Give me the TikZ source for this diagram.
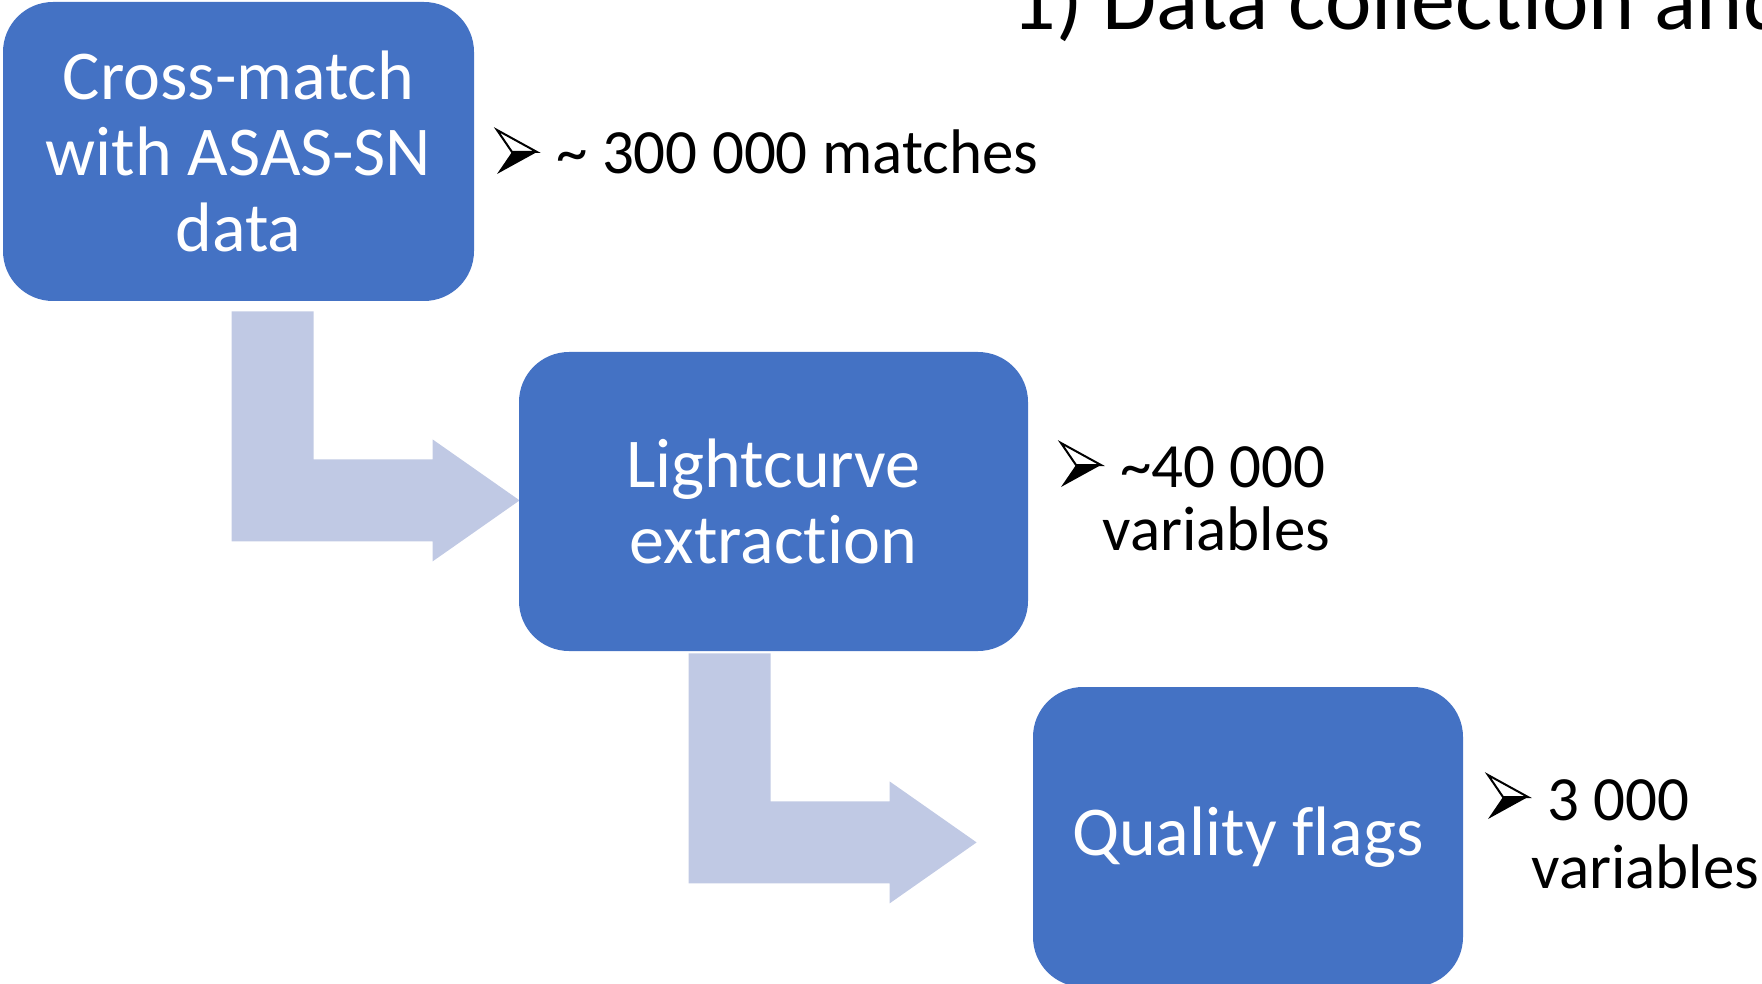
\documentclass[tikz,border=0pt]{standalone}
\usepackage{fontspec}
\setmainfont{Carlito}[Ligatures=NoCommon]
\usetikzlibrary{calc,backgrounds}
\definecolor{boxblue}{RGB}{68,114,196}
\definecolor{arrowblue}{RGB}{192,201,228}
\begin{document}
\begin{tikzpicture}[x=0.5pt,y=-0.5pt,
  stepbox/.style={fill=boxblue, rounded corners=25pt, text=white, align=center,
    inner sep=0pt, font=\fontsize{35}{38}\selectfont},
  note/.style={anchor=base west, inner sep=0pt, font=\fontsize{31.5}{34}\selectfont},
  heading/.style={anchor=base west, inner sep=0pt, font=\fontsize{44}{48}\selectfont},
  bentarrow/.pic={
    \fill[arrowblue] (0,0) -- (82,0) -- (82,148) -- (201,148) -- (201,128)
      -- (288,189) -- (201,250) -- (201,230) -- (0,230) -- cycle;
  },
  bulletmark/.pic={
    \fill[black] (15,22) -- (40,22) -- (0,44) -- cycle;
    \draw[line width=1pt, line join=miter, fill=white] (0,0) -- (40,22) -- (15,22) -- cycle;
  }]
\useasboundingbox (0,0) rectangle (1762,984);
\clip (0,0) rectangle (1762,984);

% process steps
\node[stepbox, minimum width=235.5pt, minimum height=149.5pt] (box1) at (238.5,151.5)
  {Cross-match\\with ASAS-SN\\data};
\node[stepbox, minimum width=254.5pt, minimum height=149.5pt] (box2) at (773.5,501.5)
  {Lightcurve\\extraction};
\node[stepbox, minimum width=215pt, minimum height=150pt] (box3) at (1248,837)
  {Quality flags};

% bent block arrows between the steps, kept underneath the boxes
\coordinate (a1) at ($(box1.south west)+(229,10)$);
\coordinate (a2) at ($(box2.south west)+(170,2)$);
\begin{scope}[on background layer]
  \path (a1) pic {bentarrow};
  \path (a2) pic {bentarrow};
\end{scope}

% counts next to each step
\path (497,130) pic {bulletmark};
\node[note] (n1) at (556,174) {\textasciitilde{} 300 000 matches};

\path (1061,443) pic {bulletmark};
\node[note] (n2a) at (1120,487) {\textasciitilde{}40 000};
\node[note] (n2b) at (1102,550) {variables};

\path (1488,775) pic {bulletmark};
\node[note] (n3a) at (1547,820) {3 000};
\node[note] (n3b) at (1531,888) {variables};

% heading
\node[heading] (title) at (1011,30) {1) Data collection and};
\end{tikzpicture}
\end{document}
